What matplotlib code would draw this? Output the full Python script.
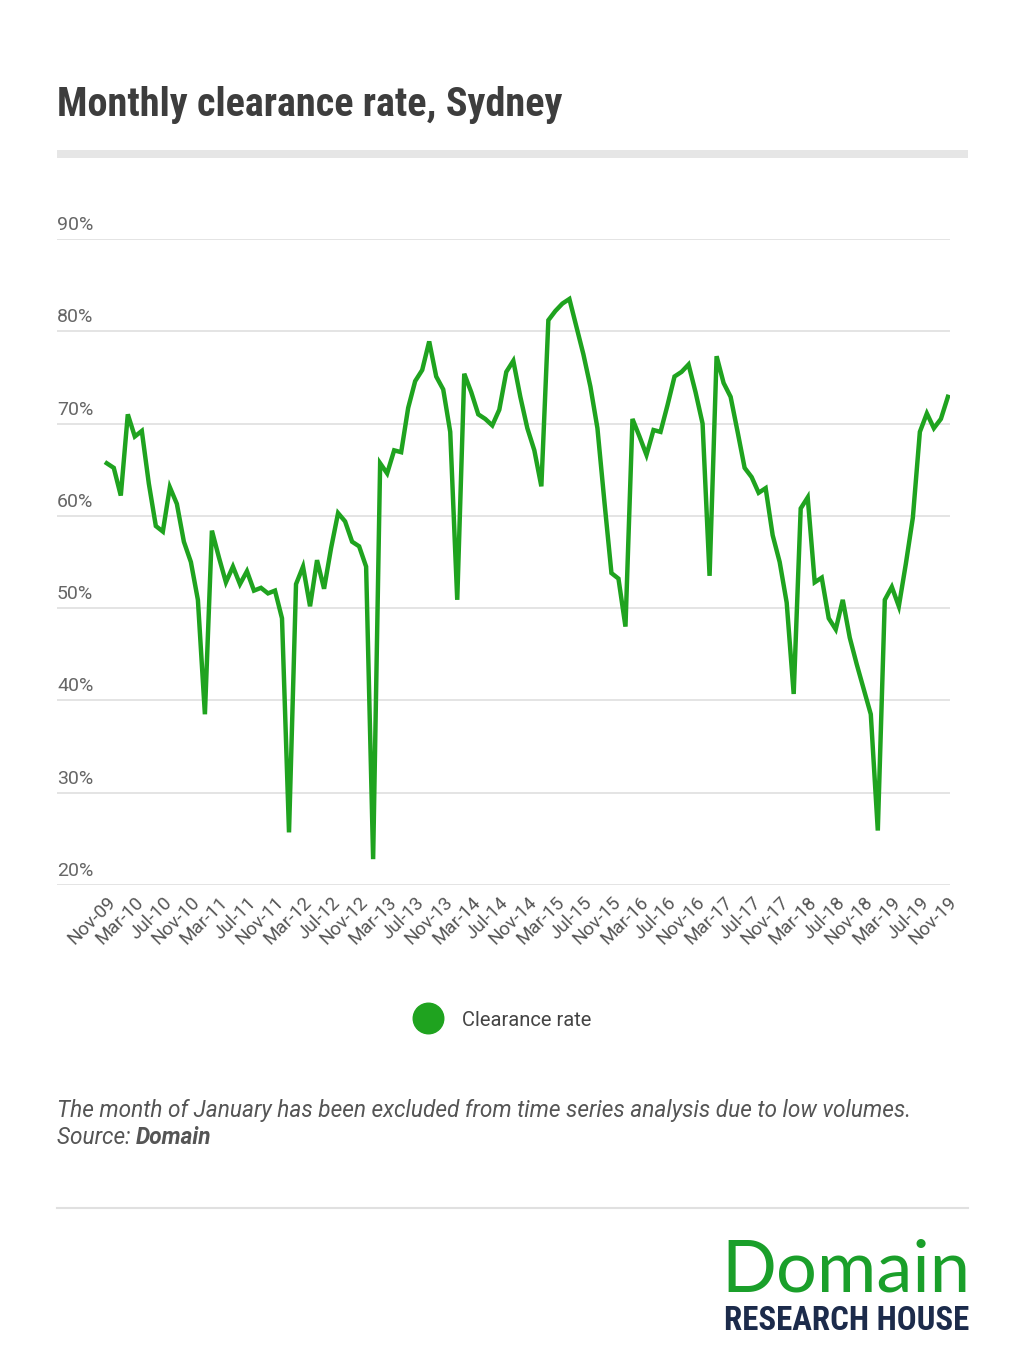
# plot.py - Monthly clearance rate, Sydney (Domain)
import matplotlib
matplotlib.use("Agg")
import matplotlib.pyplot as plt
from matplotlib import font_manager as fm
from matplotlib.lines import Line2D
from matplotlib.patches import Rectangle
import pandas as pd

# monthly clearance rate (%), Nov-09 .. Nov-19
clearance = [
    65.7, 65.2, 62.2, 71.0, 68.6, 69.2, 63.5, 58.9, 58.3, 63.1, 61.3, 57.2,
    55.0, 50.9, 38.5, 58.4, 55.5, 52.8, 54.5, 52.6, 54.0, 51.9, 52.2, 51.6,
    51.9, 48.9, 25.7, 52.6, 54.5, 50.2, 55.2, 52.1, 56.5, 60.3, 59.4, 57.2,
    56.7, 54.5, 22.8, 65.7, 64.6, 67.1, 66.9, 71.7, 74.6, 75.8, 78.9, 75.1,
    73.7, 69.1, 50.9, 75.4, 73.4, 71.0, 70.5, 69.8, 71.5, 75.6, 76.8, 72.9,
    69.5, 67.1, 63.2, 81.2, 82.2, 83.0, 83.5, 80.5, 77.5, 74.0, 69.5, 61.5,
    53.8, 53.2, 48.0, 70.5, 68.6, 66.6, 69.3, 69.1, 72.0, 75.1, 75.6, 76.4,
    73.4, 70.0, 53.5, 77.3, 74.4, 72.9, 69.1, 65.2, 64.2, 62.5, 63.0, 57.9,
    55.0, 50.6, 40.7, 60.8, 62.0, 52.8, 53.3, 48.9, 47.7, 50.9, 46.8, 43.9,
    41.2, 38.5, 25.9, 50.9, 52.3, 50.2, 54.8, 59.8, 69.1, 71.1, 69.5, 70.5,
    72.9,
]
months = pd.date_range("2009-11-01", "2019-11-01", freq="MS").strftime("%b-%y").tolist()
y_ticks = [20, 30, 40, 50, 60, 70, 80, 90]

GREEN = "#1fa31f"
W, H = 1024, 1361

names = {f.name for f in fm.fontManager.ttflist}
COND = next((n for n in ["Roboto Condensed", "Liberation Sans Narrow"] if n in names), None)
cond = COND or "Roboto"
shrink = 1.0 if COND else 0.85

fig = plt.figure(figsize=(W / 100, H / 100), dpi=100)
fig.patch.set_facecolor("white")


def fx(px):
    return px / W


def fy(py):
    return 1 - py / H


# title + grey bar
fig.text(fx(57), fy(105), "Monthly clearance rate, Sydney", family=cond,
         weight="bold", fontsize=29 * shrink, color="#3d3d3d", va="center")
fig.add_artist(Rectangle((fx(57), fy(158)), fx(968) - fx(57), 8 / H,
                         transform=fig.transFigure, color="#e6e6e6", lw=0))

ax = fig.add_axes([fx(57), fy(885), fx(950) - fx(57), (885 - 239) / H])
x = list(range(len(clearance)))
ax.plot(x, clearance, color=GREEN, lw=3.2, solid_joinstyle="miter", zorder=3)

ax.set_xlim(-7.1, 120.3)
ax.set_ylim(20, 90)
for s in ax.spines.values():
    s.set_visible(False)
ax.set_yticks([])
for v in y_ticks:
    ax.axhline(v, color="#dddddd", lw=1.1, zorder=1)
    ax.annotate(f"{v}%", xy=(0, v), xycoords=ax.get_yaxis_transform(),
                xytext=(0, 5), textcoords="offset pixels", ha="left",
                va="bottom", fontsize=14, family="Roboto", color="#666666")

ax.set_xticks(x[::4])
ax.set_xticklabels(months[::4], rotation=45, ha="right", rotation_mode="anchor",
                   fontsize=13.5, family="Roboto", color="#555555")
ax.tick_params(axis="x", length=0, pad=6)

handle = Line2D([], [], color=GREEN, marker="o", linestyle="none", markersize=22)
fig.legend(handles=[handle], labels=["Clearance rate"], loc="center",
           bbox_to_anchor=(fx(500), fy(1020)), frameon=False, handletextpad=0.7,
           prop={"family": "Roboto", "size": 14.5}, labelcolor="#444444")

# footnote
fig.text(fx(57), fy(1110), "The month of January has been excluded from time series analysis due to low volumes.",
         family="Roboto", style="italic", fontsize=16.3, color="#555555", va="center")
src = fig.text(fx(57), fy(1138), "Source: ", family="Roboto", style="italic",
               fontsize=16.3, color="#555555", va="center")
ax.annotate("Domain", xy=(1, 0.5), xycoords=src, va="center", ha="left",
            family="Roboto", style="italic", weight="bold", fontsize=16.3,
            color="#555555", annotation_clip=False)

fig.add_artist(Line2D([fx(57), fx(968)], [fy(1208), fy(1208)],
                      transform=fig.transFigure, color="#e0e0e0", lw=1.5))

# logo
fig.text(fx(970), fy(1292), "Domain", family="Lato", fontsize=52,
         color="#1a9f2a", ha="right", va="baseline")
fig.text(fx(969), fy(1330), "RESEARCH HOUSE", family=cond, weight="bold",
         fontsize=23.7 * shrink, color="#1c2b4b", ha="right", va="baseline")

plt.savefig("out.png", dpi=100)
